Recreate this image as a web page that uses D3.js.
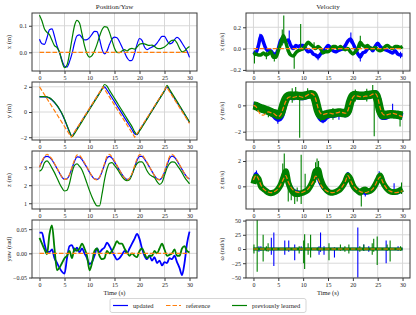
<!DOCTYPE html>
<html>
<head>
<meta charset="utf-8">
<script src="https://cdn.jsdelivr.net/npm/d3@7"></script>
<style>
  body { margin: 0; background: #fff; }
  svg text { font-family: "Liberation Serif", "DejaVu Serif", serif; fill: #222; }
</style>
</head>
<body>
<svg id="chart" width="416" height="315"></svg>
<script>
// sample grid (s)
const timeGrid = d3.range(0, 30.001, 0.5);
const xTicks = [0, 5, 10, 15, 20, 25, 30];

// ---- Position / yaw ----
const posXUpdated = [0.049,0.032,0.030,0.055,0.085,0.088,0.060,0.025,0.000,-0.030,-0.052,-0.055,-0.035,-0.005,0.035,0.062,0.066,0.055,0.047,0.048,0.055,0.068,0.079,0.078,0.050,0.012,-0.006,0.005,0.030,0.050,0.057,0.055,0.040,0.020,0.000,-0.020,-0.031,-0.030,-0.005,0.030,0.052,0.045,0.020,0.010,0.015,0.020,0.025,0.035,0.048,0.060,0.060,0.045,0.032,0.035,0.048,0.056,0.050,0.035,0.020,0.005,-0.019];
const posXLearned = [0.140,0.118,0.088,0.075,0.066,0.045,0.025,0.018,0.000,-0.035,-0.058,-0.048,-0.005,0.050,0.100,0.120,0.110,0.070,0.025,-0.005,-0.018,-0.012,0.005,0.030,0.060,0.085,0.097,0.095,0.075,0.045,0.015,0.000,-0.001,0.005,0.010,0.005,0.012,0.015,0.012,0.020,0.030,0.033,0.032,0.028,0.026,0.027,0.022,0.015,0.014,0.016,0.020,0.028,0.038,0.045,0.046,0.035,0.015,0.002,0.005,0.015,0.022];
const refZeroTime = [0, 30];
const refZero = [0, 0];

const posYUpdated = [1.20,1.20,1.20,1.18,1.10,0.95,0.75,0.50,0.20,-0.15,-0.60,-1.10,-1.60,-1.92,-1.63,-1.32,-1.00,-0.69,-0.37,-0.06,0.26,0.57,0.89,1.20,1.52,1.83,2.00,1.75,1.45,1.13,0.82,0.50,0.19,-0.13,-0.44,-0.76,-1.07,-1.39,-1.72,-1.80,-1.45,-1.15,-0.83,-0.52,-0.20,0.11,0.43,0.74,1.06,1.37,1.69,2.00,1.72,1.40,1.08,0.77,0.45,0.14,-0.18,-0.50,-0.85];
const posYLearned = [1.22,1.22,1.22,1.20,1.12,0.98,0.78,0.52,0.22,-0.12,-0.55,-1.05,-1.55,-1.95,-1.72,-1.40,-1.08,-0.76,-0.44,-0.12,0.20,0.52,0.84,1.16,1.48,1.80,2.18,2.05,1.72,1.40,1.08,0.76,0.44,0.12,-0.20,-0.52,-0.84,-1.16,-1.55,-1.78,-1.50,-1.20,-0.88,-0.56,-0.24,0.08,0.40,0.72,1.04,1.36,1.68,2.12,1.80,1.48,1.16,0.84,0.52,0.20,-0.14,-0.46,-0.80];
const refYTime = [0, 6.35, 12.7, 19.05, 25.4, 30];
const posYReference = [2.0, -2.0, 2.0, -2.0, 2.0, -0.9];

const posZUpdated = [3.00,3.30,3.55,3.60,3.55,3.40,3.18,2.93,2.68,2.45,2.33,2.35,2.57,2.95,3.32,3.57,3.56,3.42,3.20,2.97,2.72,2.50,2.35,2.32,2.42,2.75,3.13,3.50,3.60,3.50,3.30,3.07,2.83,2.60,2.42,2.32,2.36,2.60,2.98,3.37,3.60,3.60,3.45,3.24,3.00,2.77,2.53,2.36,2.31,2.42,2.72,3.12,3.48,3.62,3.55,3.36,3.12,2.88,2.64,2.45,2.35];
const posZLearned = [2.78,2.90,3.25,3.35,3.20,2.95,2.70,2.40,2.10,1.85,1.68,1.72,2.10,2.70,3.10,3.18,3.05,2.85,2.50,2.10,1.70,1.35,1.05,0.85,0.85,1.50,2.30,2.90,3.22,3.25,3.10,2.92,2.70,2.48,2.32,2.25,2.30,2.60,2.95,3.20,3.30,3.30,3.10,2.80,2.60,2.50,2.42,2.20,2.05,2.15,2.55,2.95,3.20,3.30,3.28,3.12,2.92,2.70,2.45,2.25,2.08];
const posZReference = [3.00,3.35,3.60,3.72,3.62,3.45,3.20,2.95,2.70,2.45,2.32,2.35,2.60,3.00,3.40,3.68,3.65,3.48,3.25,3.00,2.75,2.50,2.35,2.30,2.45,2.80,3.20,3.60,3.72,3.55,3.35,3.10,2.85,2.60,2.40,2.30,2.38,2.65,3.05,3.45,3.70,3.68,3.50,3.28,3.02,2.78,2.53,2.35,2.30,2.45,2.78,3.20,3.58,3.72,3.60,3.40,3.15,2.90,2.65,2.45,2.32];

const yawUpdated = [0.043,0.043,0.020,0.003,0.003,0.008,-0.010,-0.020,-0.030,-0.038,-0.042,-0.010,0.015,0.017,0.005,0.012,0.002,0.010,0.000,-0.010,-0.022,-0.018,-0.005,0.010,0.002,0.008,0.012,0.022,0.015,0.005,-0.005,-0.013,-0.010,-0.003,0.005,0.000,0.010,0.020,0.030,0.040,0.030,0.010,-0.005,-0.012,-0.005,-0.015,-0.008,-0.020,-0.015,-0.025,-0.018,-0.020,-0.010,-0.012,-0.005,-0.018,-0.030,-0.045,-0.020,0.020,0.045];
const yawLearned = [0.032,0.020,0.008,-0.002,0.040,0.058,0.010,-0.035,-0.030,-0.020,-0.010,-0.005,0.005,-0.010,0.010,0.005,0.010,0.020,0.010,-0.005,-0.035,-0.020,0.005,0.010,-0.005,-0.012,-0.010,0.005,0.000,0.005,0.015,0.025,0.020,0.020,0.010,0.002,-0.005,0.000,-0.005,-0.008,0.005,0.010,0.000,-0.010,-0.005,-0.005,0.005,0.000,0.010,0.020,0.008,-0.005,-0.003,0.000,0.008,-0.005,-0.005,0.010,0.015,0.005,0.002];

// ---- Velocity ----
const velXUpdated = [-0.03,-0.04,0.03,0.12,0.06,0.00,-0.02,-0.02,-0.05,-0.05,0.00,0.08,0.10,0.07,0.08,0.03,0.00,0.03,0.02,0.03,0.03,0.00,-0.03,-0.02,-0.05,-0.06,-0.08,-0.05,-0.03,0.00,0.03,0.01,-0.02,-0.03,-0.02,-0.01,0.00,0.03,0.07,0.09,0.05,0.00,-0.05,-0.08,-0.04,-0.03,0.00,0.01,-0.02,0.02,0.05,0.02,0.00,-0.01,-0.02,-0.03,-0.04,-0.02,-0.05,-0.06,-0.06];
const velXLearned = [-0.06,-0.05,-0.06,-0.06,-0.04,-0.06,-0.05,-0.03,-0.08,-0.08,-0.02,0.05,0.12,0.06,-0.02,-0.06,-0.07,-0.04,-0.02,-0.01,0.00,0.03,0.06,0.04,0.02,0.00,0.02,0.00,-0.04,-0.03,-0.03,-0.01,0.02,0.02,0.00,0.02,0.00,-0.01,0.00,-0.03,-0.05,-0.03,0.00,0.06,0.03,0.02,0.03,0.00,0.00,0.01,-0.01,-0.02,-0.01,0.02,0.03,0.01,0.00,0.02,0.02,0.01,0.02];
const velXUpdatedSpikes = [[1.3,0.08,0.14],[6.0,0.05,0.14],[7.2,0.05,0.17],[19.6,0.05,0.15],[21.5,-0.12,-0.04],[29.6,-0.09,-0.03],[13.0,-0.11,-0.05]];
const velXLearnedSpikes = [[0.2,-0.14,-0.02],[4.2,-0.12,-0.05],[5.8,0.03,0.18],[6.1,0.05,0.31],[8.2,-0.19,-0.05],[9.5,-0.02,0.23],[21.5,0.0,0.12],[12.2,0.0,0.06],[2.6,-0.1,-0.03]];

const velYUpdated = [0.00,-0.02,-0.10,-0.20,-0.30,-0.38,-0.45,-0.55,-0.65,-0.85,-1.00,-0.80,-0.10,0.45,0.65,0.70,0.65,0.70,0.70,0.65,0.65,0.70,0.80,0.85,0.80,0.40,-0.40,-0.90,-1.05,-0.85,-0.75,-0.70,-0.70,-0.65,-0.60,-0.60,-0.60,-0.65,-0.45,0.30,0.70,0.75,0.70,0.70,0.70,0.70,0.75,0.80,0.85,0.90,0.50,-0.40,-0.85,-0.85,-0.75,-0.70,-0.70,-0.70,-0.75,-0.80,-0.85];
const velYLearned = [0.00,-0.05,-0.15,-0.22,-0.28,-0.35,-0.42,-0.50,-0.58,-0.65,-0.75,-0.60,0.00,0.50,0.70,0.75,0.72,0.75,0.72,0.70,0.72,0.75,0.80,0.85,0.80,0.35,-0.40,-0.75,-0.80,-0.70,-0.65,-0.62,-0.60,-0.58,-0.55,-0.55,-0.58,-0.60,-0.40,0.30,0.72,0.78,0.75,0.72,0.72,0.75,0.78,0.80,0.85,0.85,0.40,-0.40,-0.75,-0.72,-0.70,-0.68,-0.68,-0.70,-0.72,-0.75,-0.78];
const velYReference = [0.00,-0.10,-0.45,-0.70,-0.75,-0.60,-0.50,-0.55,-0.60,-0.75,-0.85,-0.70,-0.20,0.30,0.60,0.65,0.60,0.65,0.70,0.65,0.60,0.70,0.80,0.90,0.85,0.50,-0.20,-0.60,-0.70,-0.65,-0.60,-0.60,-0.65,-0.60,-0.55,-0.50,-0.55,-0.60,-0.40,0.20,0.60,0.75,0.70,0.65,0.65,0.70,0.70,0.75,0.85,0.90,0.60,-0.20,-0.65,-0.75,-0.70,-0.65,-0.60,-0.65,-0.70,-0.80,-0.85];
const velYUpdatedSpikes = [[4.9,-1.4,-0.8],[14.0,-1.35,-0.8],[28.0,-0.7,0.12],[26.0,-1.1,-0.6],[17.2,-1.1,-0.5]];
const velYLearnedSpikes = [[3.0,-0.9,-0.2],[7.8,0.2,1.3],[8.5,0.5,1.4],[9.3,-2.45,0.6],[10.9,0.5,1.3],[11.6,0.5,1.1],[13.5,-1.2,-0.5],[16.0,-1.1,-0.2],[20.5,0.3,1.2],[22.8,0.3,1.25],[24.0,0.6,1.55],[24.3,-2.35,0.7],[29.5,-1.6,-0.6]];

const velZUpdated = [0.30,1.00,0.70,0.10,-0.10,-0.30,-0.40,-0.45,-0.45,-0.35,-0.20,0.10,0.50,0.90,0.40,0.00,-0.30,-0.40,-0.45,-0.50,-0.45,-0.35,-0.20,0.05,0.35,0.85,0.65,0.20,-0.10,-0.30,-0.45,-0.50,-0.50,-0.50,-0.35,-0.20,0.05,0.45,1.00,0.55,0.10,-0.15,-0.30,-0.45,-0.50,-0.55,-0.50,-0.35,-0.20,0.10,0.50,0.90,0.35,0.00,-0.25,-0.40,-0.45,-0.50,-0.50,-0.40,-0.30];
const velZLearned = [0.20,0.75,0.60,0.00,-0.20,-0.35,-0.50,-0.55,-0.50,-0.40,-0.20,0.15,0.70,1.20,0.30,-0.20,-0.50,-0.60,-0.60,-0.55,-0.50,-0.40,-0.25,0.05,0.50,1.20,1.30,0.60,0.10,-0.20,-0.40,-0.50,-0.50,-0.45,-0.35,-0.20,0.05,0.40,0.85,0.60,0.10,-0.20,-0.35,-0.50,-0.30,-0.25,-0.40,-0.35,-0.20,0.10,0.50,0.85,0.35,0.00,-0.25,-0.40,-0.45,-0.45,-0.40,-0.30,-0.20];
const velZReference = [0.50,0.85,0.60,0.10,-0.20,-0.35,-0.45,-0.50,-0.45,-0.35,-0.15,0.15,0.55,0.85,0.35,-0.05,-0.30,-0.42,-0.48,-0.50,-0.45,-0.35,-0.20,0.05,0.35,0.80,0.60,0.15,-0.15,-0.30,-0.42,-0.48,-0.50,-0.45,-0.35,-0.20,0.05,0.40,0.85,0.50,0.10,-0.15,-0.30,-0.42,-0.48,-0.50,-0.45,-0.35,-0.20,0.10,0.50,0.75,0.35,0.00,-0.25,-0.38,-0.45,-0.50,-0.48,-0.42,-0.35];
const velZUpdatedSpikes = [[0.6,0.3,1.25],[25.3,0.6,1.2],[28.3,-0.5,0.25],[22.5,-0.8,-0.3]];
const velZLearnedSpikes = [[5.9,0.0,1.8],[6.2,0.3,2.6],[7.0,-1.2,0.4],[8.3,-1.4,-0.2],[8.8,-1.2,-0.1],[9.6,-1.4,2.5],[10.4,-0.3,1.0],[12.5,0.3,1.9],[12.8,0.5,2.2],[13.1,0.6,2.0],[21.7,-1.6,-0.3],[29.8,-0.6,0.3],[7.6,-1.1,0.0]];

const omegaBase = [0, 0];
const omegaUpdatedSpikes = [[1.1,-5,5],[1.5,-3,5],[3.6,-10,20],[4.1,-30,29],[6.3,-10,15],[7.1,-5,15],[8.3,-20,8],[9.6,-3,5],[13.2,-10,5],[13.5,-5,29],[14.2,-10,5],[16.3,-15,3],[21.0,-50,38],[22.2,-3,8],[23.2,-5,5],[26.7,-25,15],[29.1,-3,5]];
const omegaLearnedSpikes = [[0.1,-8,8],[0.75,-40,55],[1.95,-22,25],[2.6,-4,5],[2.95,-5,10],[9.2,-8,5],[10.1,-25,15],[10.3,-35,26],[11.0,-10,10],[11.5,-15,25],[13.0,-3,3],[15.2,-20,10],[17.5,-3,8],[18.4,-5,5],[19.2,-8,8],[21.4,-5,5],[22.2,-3,8],[23.9,-10,10],[24.2,-5,18],[24.9,-28,22],[26.9,-3,8],[27.5,-22,15],[29.6,-3,5]];

// ---- layout ----
const svg = d3.select("#chart");
const cUpd = "#0000ff", cRef = "#ff7f0e", cLrn = "#008000";
const colX = [[32, 197], [246, 410]];
const rowTop = [13, 82, 151, 220];
const rowH = 58;

const panels = [
  { col: 0, row: 0, label: "x (m)", domain: [-0.0703, 0.148], ticks: [0, 0.1], fmt: ".1f",
    lines: [[timeGrid, posXUpdated, cUpd, 1.2], [timeGrid, posXLearned, cLrn, 1.2]],
    ref: [refZeroTime, refZero] },
  { col: 0, row: 1, label: "y (m)", domain: [-2.22, 2.38], ticks: [-2, 0, 2], fmt: "d",
    lines: [[timeGrid, posYUpdated, cUpd, 1.2], [timeGrid, posYLearned, cLrn, 1.2]],
    ref: [refYTime, posYReference], linearRef: true },
  { col: 0, row: 2, label: "z (m)", domain: [0.68, 3.9], ticks: [1, 2, 3], fmt: "d",
    lines: [[timeGrid, posZUpdated, cUpd, 1.2], [timeGrid, posZLearned, cLrn, 1.2]],
    ref: [timeGrid, posZReference] },
  { col: 0, row: 3, label: "yaw (rad)", domain: [-0.051, 0.069], ticks: [-0.05, 0, 0.05], fmt: ".2f",
    lines: [[timeGrid, yawUpdated, cUpd, 1.8], [timeGrid, yawLearned, cLrn, 1.8]],
    ref: [refZeroTime, refZero] },
  { col: 1, row: 0, label: "x (m/s)", domain: [-0.21, 0.334], ticks: [-0.2, 0, 0.2], fmt: ".1f",
    lines: [[timeGrid, velXUpdated, cUpd, 3.5], [timeGrid, velXLearned, cLrn, 3.5]],
    spikes: [[velXUpdatedSpikes, cUpd], [velXLearnedSpikes, cLrn]],
    ref: [refZeroTime, refZero] },
  { col: 1, row: 1, label: "y (m/s)", domain: [-2.63, 1.77], ticks: [-2, 0], fmt: "d",
    lines: [[timeGrid, velYUpdated, cUpd, 7], [timeGrid, velYLearned, cLrn, 8.5]],
    spikes: [[velYUpdatedSpikes, cUpd], [velYLearnedSpikes, cLrn]],
    ref: [timeGrid, velYReference] },
  { col: 1, row: 2, label: "z (m/s)", domain: [-1.79, 2.79], ticks: [0, 2], fmt: "d",
    lines: [[timeGrid, velZUpdated, cUpd, 3.5], [timeGrid, velZLearned, cLrn, 6]],
    spikes: [[velZUpdatedSpikes, cUpd], [velZLearnedSpikes, cLrn]],
    ref: [timeGrid, velZReference] },
  { col: 1, row: 3, label: "\u03c9 (rad/s)", domain: [-51, 51], ticks: [-50, -25, 0, 25, 50], fmt: "d",
    lines: [[refZeroTime, omegaBase, cUpd, 2.5], [refZeroTime, omegaBase, cLrn, 3]],
    spikes: [[omegaUpdatedSpikes, cUpd], [omegaLearnedSpikes, cLrn]],
    ref: [refZeroTime, refZero] }
];

panels.forEach((p, i) => {
  const [x0, x1] = colX[p.col];
  const top = rowTop[p.row], bottom = top + rowH;
  const x = d3.scaleLinear().domain([-1.5, 31.5]).range([x0, x1]);
  const y = d3.scaleLinear().domain(p.domain).range([bottom, top]);
  const g = svg.append("g");

  g.append("clipPath").attr("id", "clip" + i)
    .append("rect").attr("x", x0).attr("y", top).attr("width", x1 - x0).attr("height", rowH);

  // grid
  g.selectAll(".gx").data(xTicks).enter().append("line")
    .attr("x1", d => x(d)).attr("x2", d => x(d)).attr("y1", top).attr("y2", bottom)
    .attr("stroke", "#d4d4d4").attr("stroke-width", 0.9);
  g.selectAll(".gy").data(p.ticks).enter().append("line")
    .attr("x1", x0).attr("x2", x1).attr("y1", d => y(d)).attr("y2", d => y(d))
    .attr("stroke", "#d4d4d4").attr("stroke-width", 0.9);

  const plot = g.append("g").attr("clip-path", `url(#clip${i})`);

  const drawSeries = (k) => {
    const [tt, vv, color, w] = p.lines[k];
    const line = d3.line().x((d, j) => x(tt[j])).y(d => y(d)).curve(d3.curveMonotoneX);
    plot.append("path").datum(vv)
      .attr("fill", "none").attr("stroke", color).attr("stroke-width", w)
      .attr("stroke-linejoin", "round").attr("stroke-linecap", "butt")
      .attr("d", line);
    if (p.spikes) {
      const [sp, sc] = p.spikes[k];
      plot.selectAll(null).data(sp).enter().append("line")
        .attr("x1", d => x(d[0])).attr("x2", d => x(d[0]))
        .attr("y1", d => y(d[1])).attr("y2", d => y(d[2]))
        .attr("stroke", sc).attr("stroke-width", 1.1);
    }
  };
  drawSeries(0);
  drawSeries(1);

  const [rt, rv] = p.ref;
  const refLine = d3.line().x((d, j) => x(rt[j])).y(d => y(d))
    .curve(p.linearRef ? d3.curveLinear : d3.curveMonotoneX);
  plot.append("path").datum(rv)
    .attr("fill", "none").attr("stroke", cRef).attr("stroke-width", 1.2)
    .attr("stroke-dasharray", "4.5,2").attr("d", refLine);

  // frame
  g.append("rect").attr("x", x0).attr("y", top).attr("width", x1 - x0).attr("height", rowH)
    .attr("fill", "none").attr("stroke", "#3a3a3a").attr("stroke-width", 1);

  // axes
  const ax = g.append("g").attr("transform", `translate(0,${bottom})`)
    .call(d3.axisBottom(x).tickValues(xTicks).tickSize(3).tickPadding(2).tickFormat(d3.format("d")));
  const ay = g.append("g").attr("transform", `translate(${x0},0)`)
    .call(d3.axisLeft(y).tickValues(p.ticks).tickSize(3).tickPadding(2).tickFormat(d3.format(p.fmt)));
  [ax, ay].forEach(a => {
    a.select(".domain").remove();
    a.selectAll("line").attr("stroke", "#3a3a3a");
    a.selectAll("text").style("font-size", "6px").style("font-family", "Liberation Serif, serif").attr("fill", "#222");
  });

  svg.append("text")
    .attr("transform", `translate(${p.col === 0 ? 11 : 224},${top + rowH / 2}) rotate(-90)`)
    .attr("text-anchor", "middle").style("font-size", "6.5px")
    .text(p.label);
});

// titles and x labels
svg.append("text").attr("x", (colX[0][0] + colX[0][1]) / 2).attr("y", 9)
  .attr("text-anchor", "middle").style("font-size", "7px").text("Position/Yaw");
svg.append("text").attr("x", (colX[1][0] + colX[1][1]) / 2).attr("y", 9)
  .attr("text-anchor", "middle").style("font-size", "7px").text("Velocity");
colX.forEach(c => {
  svg.append("text").attr("x", (c[0] + c[1]) / 2).attr("y", 295)
    .attr("text-anchor", "middle").style("font-size", "6.5px").text("Time (s)");
});

// legend
const legend = svg.append("g");
legend.append("rect").attr("x", 110).attr("y", 298.5).attr("width", 196).attr("height", 14)
  .attr("rx", 2).attr("fill", "#fff").attr("stroke", "#cccccc").attr("stroke-width", 0.8);
const legendItems = [
  { x: 113, label: "updated", color: cUpd, dash: null },
  { x: 166, label: "reference", color: cRef, dash: "4.5,2" },
  { x: 232, label: "previously learned", color: cLrn, dash: null }
];
legendItems.forEach(it => {
  legend.append("line").attr("x1", it.x).attr("x2", it.x + 15).attr("y1", 305.5).attr("y2", 305.5)
    .attr("stroke", it.color).attr("stroke-width", 1.2).attr("stroke-dasharray", it.dash);
  legend.append("text").attr("x", it.x + 20).attr("y", 307.8)
    .style("font-size", "6.5px").text(it.label);
});
</script>
</body>
</html>
